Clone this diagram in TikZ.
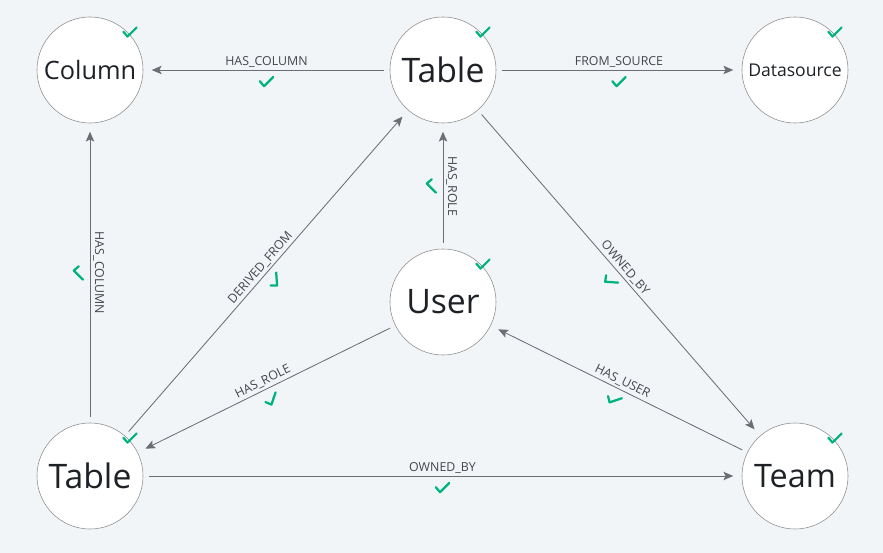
\documentclass[tikz,border=0pt]{standalone}
\usepackage{fontspec}
\setmainfont{Open Sans}
\usetikzlibrary{arrows.meta}
\definecolor{fond}{HTML}{F2F5F8}
\definecolor{trait}{HTML}{6B6F74}
\definecolor{bord}{HTML}{8C8C8C}
\definecolor{encre}{HTML}{1E2226}
\definecolor{etiq}{HTML}{43474C}
\definecolor{valide}{HTML}{00B27F}
\newcommand{\coche}{\tikz[x=1pt,y=1pt]\draw[arrows=-, shorten <=0pt, shorten >=0pt, draw=valide, line width=1.6pt, line cap=round, line join=round] (-4.5,0.5) -- (-1.5,-3) -- (5,3.5);}

\begin{document}
\begin{tikzpicture}[x=0.025cm, y=0.025cm]
\tikzset{entite/.style={draw=bord, circle, fill=white, minimum size=2.65cm, inner sep=0pt, text=encre},
  lien/.style={draw=trait, line width=0.6pt, -{Stealth[length=7pt, width=6pt, inset=1.5pt]}, shorten <=4pt, shorten >=6pt},
  etiquette/.style={font=\fontsize{8.8}{10}\selectfont, text=etiq, inner sep=1pt},
  coche/.style={inner sep=0pt}}
\fill[fond] (0,0) rectangle (883,553);
\node[entite, font=\fontsize{18}{20}\selectfont] (Col) at (90,483) {Column};
\node[entite, font=\fontsize{24}{28}\selectfont] (TabH) at (443,483) {Table};
\node[entite, font=\fontsize{12.5}{15}\selectfont] (Src) at (795,483) {Datasource};
\node[entite, font=\fontsize{24}{28}\selectfont] (Usr) at (443,251) {User};
\node[entite, font=\fontsize{24}{28}\selectfont] (TabB) at (90,77) {Table};
\node[entite, font=\fontsize{23}{28}\selectfont] (Team) at (795,77) {Team};
% coches sur les noeuds
\node[coche] at ([shift={(40,38)}]Col.center) {\coche};
\node[coche] at ([shift={(40,38)}]TabH.center) {\coche};
\node[coche] at ([shift={(40,38)}]Src.center) {\coche};
\node[coche] at ([shift={(40,38)}]Usr.center) {\coche};
\node[coche] at ([shift={(40,38)}]TabB.center) {\coche};
\node[coche] at ([shift={(40,38)}]Team.center) {\coche};
% liens
\draw[lien] (TabH) -- node[etiquette, sloped, above=0.5pt] {HAS\_COLUMN} node[coche, sloped, below=4pt] {\coche} (Col);
\draw[lien] (TabH) -- node[etiquette, sloped, above=0.5pt] {FROM\_SOURCE} node[coche, sloped, below=4pt] {\coche} (Src);
\draw[lien] (TabB) -- node[etiquette, rotate=-90, anchor=south, inner sep=2pt] {HAS\_COLUMN} node[coche, rotate=-90, anchor=north, inner sep=4pt] {\coche} (Col);
\draw[lien] (TabB) -- node[etiquette, sloped, above=0.5pt] {DERIVED\_FROM} node[coche, sloped, below=4pt] {\coche} (TabH);
\draw[lien] (Usr) -- node[etiquette, rotate=-90, anchor=south, inner sep=2pt] {HAS\_ROLE} node[coche, rotate=-90, anchor=north, inner sep=4pt] {\coche} (TabH);
\draw[lien] (TabH) -- node[etiquette, sloped, above=0.5pt] {OWNED\_BY} node[coche, sloped, below=4pt] {\coche} (Team);
\draw[lien] (Team) -- node[etiquette, sloped, above=0.5pt] {HAS\_USER} node[coche, sloped, below=4pt] {\coche} (Usr);
\draw[lien] (Usr) -- node[etiquette, sloped, above=0.5pt] {HAS\_ROLE} node[coche, sloped, below=4pt] {\coche} (TabB);
\draw[lien] (TabB) -- node[etiquette, sloped, above=0.5pt] {OWNED\_BY} node[coche, sloped, below=4pt] {\coche} (Team);
\end{tikzpicture}
\end{document}
